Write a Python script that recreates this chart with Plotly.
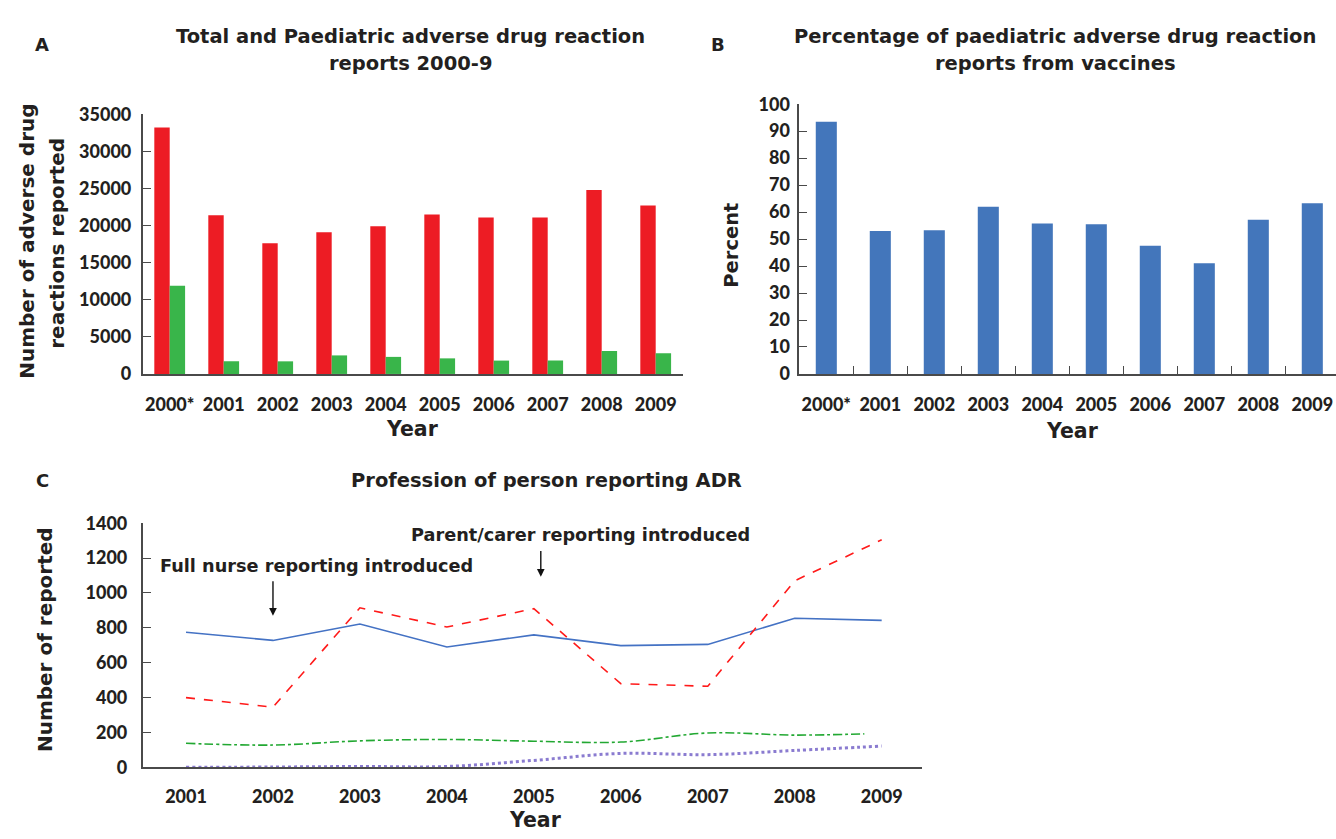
import plotly.graph_objects as go

W, H = 1336, 839

# ---------------- data ----------------
years_ab = ["2000*", "2001", "2002", "2003", "2004", "2005", "2006", "2007", "2008", "2009"]
total_reports = [33200, 21400, 17600, 19100, 19900, 21500, 21100, 21100, 24800, 22700]
paed_reports = [11900, 1700, 1700, 2500, 2300, 2100, 1800, 1800, 3100, 2800]
vaccine_pct = [93.5, 53.0, 53.3, 62.0, 55.8, 55.5, 47.5, 41.0, 57.2, 63.3]

years_c = [2001, 2002, 2003, 2004, 2005, 2006, 2007, 2008, 2009]
prof_blue = [775, 728, 822, 690, 760, 698, 705, 855, 843]
prof_red = [400, 345, 915, 805, 910, 480, 465, 1070, 1305]
prof_green = [138, 128, 152, 160, 150, 145, 197, 185, 192]
prof_purple = [0, 2, 5, 5, 40, 80, 73, 97, 122]

ticks_a = [0, 5000, 10000, 15000, 20000, 25000, 30000, 35000]
ticks_b = list(range(0, 101, 10))
ticks_c = [0, 200, 400, 600, 800, 1000, 1200, 1400]

TICKFONT = "Lato"
TEXTFONT = "DejaVu Sans"
TXT = "#231f20"
AX = "#4a4a4a"

def px(x):
    return x / W

def py(y):
    return 1 - y / H

def bold(vals):
    return [f'<span style="font-weight:900">{v}</span>' for v in vals]

fig = go.Figure()

# Panel A
fig.add_trace(go.Bar(x=years_ab, y=total_reports, marker_color="#ed1c24", marker_line_width=0,
                     xaxis="x", yaxis="y", showlegend=False))
fig.add_trace(go.Bar(x=years_ab, y=paed_reports, marker_color="#39b54a", marker_line_width=0,
                     xaxis="x", yaxis="y", showlegend=False))
# Panel B
fig.add_trace(go.Bar(x=years_ab, y=vaccine_pct, marker_color="#4376bb", width=0.39,
                     marker_line_width=0, xaxis="x2", yaxis="y2", showlegend=False))
# Panel C
fig.add_trace(go.Scatter(x=years_c, y=prof_blue, mode="lines",
                         line=dict(color="#4472c4", width=1.6),
                         xaxis="x3", yaxis="y3", showlegend=False))
fig.add_trace(go.Scatter(x=years_c, y=prof_red, mode="lines",
                         line=dict(color="#ff1a1a", width=1.6, dash="dash"),
                         xaxis="x3", yaxis="y3", showlegend=False))
fig.add_trace(go.Scatter(x=years_c[:-1] + [2008.8], y=prof_green, mode="lines",
                         line=dict(color="#22a832", width=1.6, dash="dashdot", shape="spline"),
                         xaxis="x3", yaxis="y3", showlegend=False))
fig.add_trace(go.Scatter(x=years_c, y=prof_purple, mode="lines",
                         line=dict(color="#8a7bd0", width=3, dash="dot", shape="spline"),
                         xaxis="x3", yaxis="y3", showlegend=False))

tickfont = dict(family=TICKFONT, size=18, color=TXT, weight=900)
axbase = dict(showline=True, linecolor=AX, linewidth=1.6, showgrid=False, zeroline=False,
              tickfont=tickfont, fixedrange=True, tickangle=0)

fig.update_layout(
    width=W, height=H,
    margin=dict(l=0, r=0, t=0, b=0),
    paper_bgcolor="white", plot_bgcolor="white",
    barmode="group", bargap=0.43, bargroupgap=0.0,
    font=dict(family=TEXTFONT, color=TXT),
    xaxis=dict(axbase, domain=[px(142.7), px(682.7)], anchor="y", type="category",
               range=[-0.5, 9.5], ticks="", tickvals=years_ab, ticktext=bold(years_ab),
               ticklabelstandoff=14),
    yaxis=dict(axbase, domain=[py(371.7), py(105)], anchor="x", range=[0, 35000],
               tickvals=ticks_a, ticktext=bold(ticks_a), ticks="inside", ticklen=8,
               tickcolor=AX, ticklabelstandoff=6),
    xaxis2=dict(axbase, domain=[px(799.3), 1.0], anchor="y2", type="category",
                range=[-0.5, 9.5 - 3.3 / 54], ticks="inside", tickson="boundaries", ticklen=8,
                tickvals=years_ab, ticktext=bold(years_ab),
                tickcolor=AX, ticklabelstandoff=14),
    yaxis2=dict(axbase, domain=[py(371.7), py(94.7)], anchor="x2", range=[0, 100],
                tickvals=ticks_b, ticktext=bold(ticks_b), ticks="inside", ticklen=8,
                tickcolor=AX, ticklabelstandoff=4),
    xaxis3=dict(axbase, domain=[px(142.7), px(922.3)], anchor="y3",
                range=[2000.502, 2009.467], tickvals=years_c, ticktext=bold(years_c), ticks="",
                ticklabelstandoff=12),
    yaxis3=dict(axbase, domain=[py(775.7), py(525)], anchor="x3", range=[0, 1400],
                tickvals=ticks_c, ticktext=bold(ticks_c), ticks="inside", ticklen=8,
                tickcolor=AX, ticklabelstandoff=10),
)

def ann(text, x, y, size=18, angle=0, xanchor="center", yanchor="middle"):
    fig.add_annotation(text=text, x=px(x), y=py(y), xref="paper", yref="paper",
                       showarrow=False, textangle=angle, xanchor=xanchor, yanchor=yanchor,
                       font=dict(family=TEXTFONT, size=size, color=TXT, weight="bold"))

# panel letters
ann("A", 42, 33, size=18)
ann("B", 718, 33, size=18)
ann("C", 42, 481, size=18)

# titles
ann("Total and Paediatric adverse drug reaction", 410, 25, size=19.5)
ann("reports 2000-9", 410, 53, size=19.5)
ann("Percentage of paediatric adverse drug reaction", 1055, 25, size=19.5)
ann("reports from vaccines", 1055, 53, size=19.5)
ann("Profession of person reporting ADR", 546, 481, size=19.5)

# axis titles
ann("Number of adverse drug", 27, 236, size=20, angle=-90)
ann("reactions reported", 57, 238, size=20, angle=-90)
ann("Year", 412, 428, size=20.5)
ann("Percent", 732, 240, size=19.5, angle=-90)
ann("Year", 1072, 430, size=20.5)
ann("Number of reported", 45, 645, size=20, angle=-90)
ann("Year", 535, 830, size=20.5)

# event annotations (panel C)
ann("Full nurse reporting introduced", 316, 569, size=17.7)
ann("Parent/carer reporting introduced", 580, 537, size=17.7)
for xa, y_tail, y_head in [(2002.0, 1076, 869), (2005.08, 1249, 1093)]:
    fig.add_annotation(text="", x=xa, y=y_head, xref="x3", yref="y3",
                       ax=xa, ay=y_tail, axref="x3", ayref="y3",
                       showarrow=True, arrowhead=2, arrowsize=1.1, arrowwidth=1.4,
                       arrowcolor="#111", standoff=0, startstandoff=0)

fig.write_html("out.html")
